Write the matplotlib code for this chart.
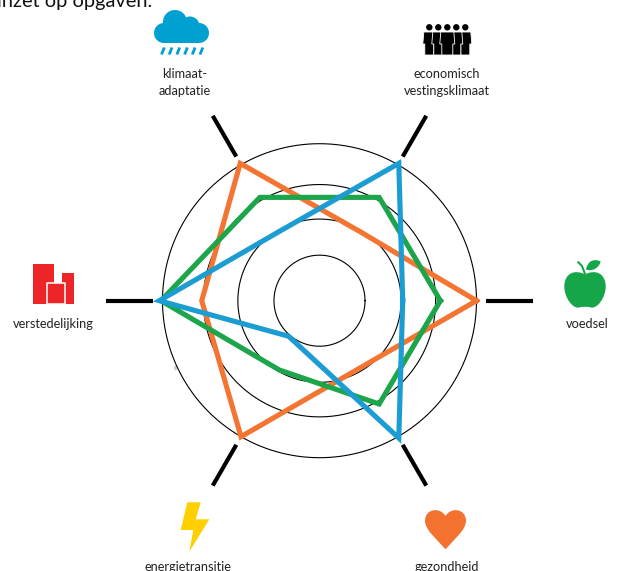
import numpy as np
import matplotlib
matplotlib.use("Agg")
import matplotlib.pyplot as plt
from matplotlib.patches import Circle, Rectangle, Polygon, PathPatch, Ellipse
from matplotlib.path import Path

plt.rcParams['font.family'] = ['Lato', 'DejaVu Sans']

W, H = 617, 571
CX, CY = 319.5, 300.7
RMAX = 140
PX_PER_UNIT = 1.57

# radar values, outer ring = 100
angles = [0, 60, 120, 180, 240, 300]
blue_angles = [0, 60, 120, 180, 229, 300]
orange_vals = [100, 51, 101, 75, 100, 50]
green_vals = [77, 76, 76, 101, 51, 76]
blue_vals = [53, 101, 51, 102, 30, 101]
rings = [29, 52, 74, 100]
spoke_in = 106
spoke_out = 136

ORANGE = "#F47432"
GREEN = "#1CA54A"
BLUE = "#1B9CD2"

fig = plt.figure(figsize=(W / 100, H / 100), dpi=100)

# overlay in pixel coords for icons and labels
bg = fig.add_axes([0, 0, 1, 1])
bg.set_xlim(0, W)
bg.set_ylim(H, 0)
bg.axis("off")

size = 2 * RMAX * PX_PER_UNIT
ax = fig.add_axes([(CX - size / 2) / W, (H - CY - size / 2) / H, size / W, size / H],
                  projection="polar")
ax.patch.set_alpha(0)
ax.set_ylim(0, RMAX)
ax.axis("off")

t = np.linspace(0, 2 * np.pi, 361)
for r in rings:
    ax.plot(t, np.full_like(t, r), color="black", lw=0.8)

for a in angles:
    ax.plot(np.radians([a, a]), [spoke_in, spoke_out], color="black", lw=3.0,
            solid_capstyle="butt")


def radar(theta, vals, color):
    th = np.radians(theta + theta[:1])
    ax.plot(th, vals + vals[:1], color=color, lw=3.7, solid_joinstyle="miter")


radar(angles, orange_vals, ORANGE)
radar(angles, green_vals, GREEN)
radar(blue_angles, blue_vals, BLUE)

# labels
labels = [
    ("klimaat-", 185, 74), ("adaptatie", 185, 91),
    ("economisch", 447, 74), ("vestingsklimaat", 447, 91),
    ("verstedelijking", 53.7, 324), ("voedsel", 587, 324),
    ("energietransitie", 188.3, 567), ("gezondheid", 447.3, 567),
]
for s, x, y in labels:
    bg.text(x, y, s, ha="center", va="center", fontsize=9.2, color="#222222")

bg.text(-3, 1, "inzet op opgaven.", ha="left", va="center", fontsize=14.4, color="#111111")

# small grey smudge left of the rings
bg.add_patch(Ellipse((175.5, 368), 3, 5, color="#C9CDCF", lw=0))

# cloud
CLOUD = "#00A0D0"
for x, y, r in [(175, 22, 12), (190, 26, 9.5), (199, 33, 10), (164, 33, 10)]:
    bg.add_patch(Circle((x, y), r, color=CLOUD, lw=0))
bg.add_patch(Rectangle((164, 26), 35, 17, color=CLOUD, lw=0))
for x in np.arange(161.5, 201, 7.7):
    bg.plot([x, x + 2.8], [54.5, 47.5], color=CLOUD, lw=2.0, solid_capstyle="butt")

# people
for x, w, zo in [(429.3, 5.5, 2), (465.3, 5.5, 2), (438.3, 5.5, 3), (456.3, 5.5, 3), (447.3, 6.5, 4)]:
    bg.add_patch(Circle((x, 27.3), 3.2, color="black", lw=0))
    body = [(x - w, 32), (x + w, 32), (x + w + 1, 44), (x + w - 1, 44), (x + w - 1, 55),
            (x - w + 1, 55), (x - w + 1, 44), (x - w - 1, 44)]
    bg.add_patch(Polygon(body, closed=True, facecolor="black", edgecolor="white", lw=0.6, zorder=zo))

# bolt
bg.add_patch(Polygon([(187.3, 502.3), (200.7, 502.3), (195.7, 519.3), (209.3, 519.3),
                      (189.3, 551.7), (193.3, 530), (180.7, 530)], closed=True,
                     color="#FFCF00", lw=0))

# heart
hx, hy = 445.5, 516
heart = Path([(hx, hy), (hx - 5, 507), (hx - 20.5, 508), (hx - 20.5, 521), (hx - 20.5, 530),
              (hx - 8, 540), (hx, 549.3), (hx + 8, 540), (hx + 20.5, 530), (hx + 20.5, 521),
              (hx + 20.5, 508), (hx + 5, 507), (hx, hy)],
             [Path.MOVETO] + [Path.CURVE4] * 12)
bg.add_patch(PathPatch(heart, color="#F4722F", lw=0))

# buildings
RED = "#EE2528"
bg.add_patch(Rectangle((33.3, 264.3), 20.7, 39.7, color=RED, lw=0))
bg.add_patch(Rectangle((61.7, 272.7), 12.3, 31.3, color=RED, lw=0))
bg.add_patch(Rectangle((46.7, 283.3), 18.3, 20.7, facecolor=RED, edgecolor="white", lw=1.1))

# apple
APPLE = "#16A649"
ac = 585
apple = Path([(ac, 274.5), (ac - 10, 269), (ac - 21, 273), (ac - 20.7, 287),
              (ac - 20.5, 298), (ac - 12, 309), (ac - 6, 307.5),
              (ac - 2, 306.5), (ac + 2, 306.5), (ac + 6, 307.5),
              (ac + 12, 309), (ac + 20.5, 298), (ac + 20.7, 287),
              (ac + 21, 273), (ac + 10, 269), (ac, 274.5)],
             [Path.MOVETO] + [Path.CURVE4] * 15)
bg.add_patch(PathPatch(apple, color=APPLE, lw=0))
bg.plot([578.3, 582, 585], [262.3, 266, 274], color=APPLE, lw=1.5)
leaf = Path([(586, 269.5), (588, 259), (596, 259), (600.7, 261.5), (599, 268), (592, 272), (586, 269.5)],
            [Path.MOVETO] + [Path.CURVE4] * 6)
bg.add_patch(PathPatch(leaf, color=APPLE, lw=0))

fig.savefig("out.png", dpi=100)
